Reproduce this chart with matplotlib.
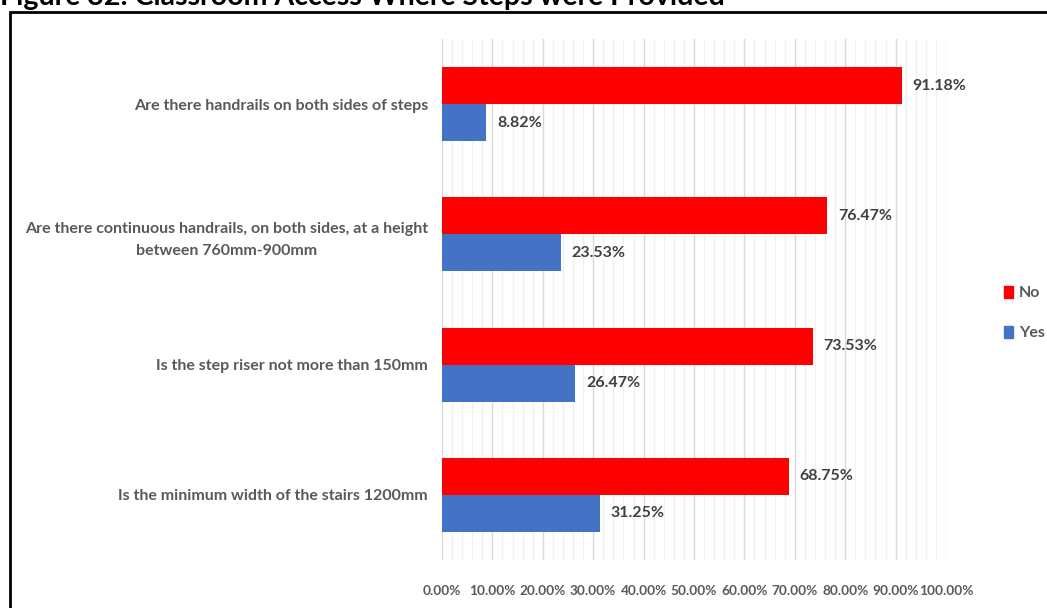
import numpy as np
import matplotlib.pyplot as plt
from matplotlib.patches import Rectangle
from matplotlib.ticker import MultipleLocator, FuncFormatter

plt.rcParams['font.family'] = ['Lato', 'DejaVu Sans']

# survey items, top to bottom
questions = [
    'Are there handrails on both sides of steps',
    'Are there continuous handrails, on both sides, at a height\nbetween 760mm-900mm',
    'Is the step riser not more than 150mm',
    'Is the minimum width of the stairs 1200mm',
]
no_pct = [91.18, 76.47, 73.53, 68.75]
yes_pct = [8.82, 23.53, 26.47, 31.25]

title = 'Figure 32: Classroom Access Where Steps were Provided'

red = '#FF0000'
blue = '#4472C4'
grey_txt = '#595959'

fig = plt.figure(figsize=(10.47, 6.08), dpi=100)
W, H = 1047, 608
ax = fig.add_axes([442 / W, 1 - 560 / H, (946 - 442) / W, (560 - 39) / H])

y = np.arange(len(questions))
h = 0.284
b_no = ax.barh(y - h / 2, no_pct, height=h, color=red, label='No')
b_yes = ax.barh(y + h / 2, yes_pct, height=h, color=blue, label='Yes')

for bars, vals in ((b_no, no_pct), (b_yes, yes_pct)):
    for bar, v in zip(bars, vals):
        ax.annotate(f'{v:.2f}%', (v, bar.get_y() + bar.get_height() / 2),
                    xytext=(8, 0), textcoords='offset points',
                    ha='left', va='center', fontsize=11.5, fontweight='bold',
                    color='#404040')

ax.set_xlim(0, 100)
ax.set_ylim(3.5, -0.5)
ax.xaxis.set_major_locator(MultipleLocator(10))
ax.xaxis.set_minor_locator(MultipleLocator(2))
ax.xaxis.set_major_formatter(FuncFormatter(lambda v, p: f'{v:.2f}%'))
ax.grid(axis='x', which='major', color='#d9d9d9', lw=1)
ax.grid(axis='x', which='minor', color='#f0f0f0', lw=1)
ax.set_axisbelow(True)
for s in ax.spines.values():
    s.set_visible(False)

ax.set_yticks(y)
ax.set_yticklabels(questions, multialignment='center', linespacing=1.75)
ax.tick_params(axis='y', length=0, pad=10, labelsize=11.5, labelcolor=grey_txt)
ax.tick_params(axis='x', which='both', length=0, pad=18, labelsize=9.8,
               labelcolor=grey_txt)
for lbl in ax.get_xticklabels() + ax.get_yticklabels():
    lbl.set_fontweight('bold')

handles = [Rectangle((0, 0), 1, 1, color=red), Rectangle((0, 0), 1, 1, color=blue)]
fig.legend(handles, ['No', 'Yes'], loc='center left',
           bbox_to_anchor=(990 / W, 1 - 313 / H), frameon=False,
           handlelength=0.55, handleheight=0.8, handletextpad=0.35,
           labelspacing=1.6, prop={'size': 11.5, 'weight': 'bold'},
           labelcolor=grey_txt)

# heading and outer frame
fig.text(0.0, 1 - 5 / H, title, ha='left', va='baseline', fontsize=20.5,
         fontweight='bold', color='black')
fig.add_artist(Rectangle((10 / W, -0.05), 1.1, 1 - 12 / H + 0.05,
                         transform=fig.transFigure, fill=False,
                         edgecolor='black', lw=2, clip_on=False))

fig.savefig('out.png', dpi=100)
